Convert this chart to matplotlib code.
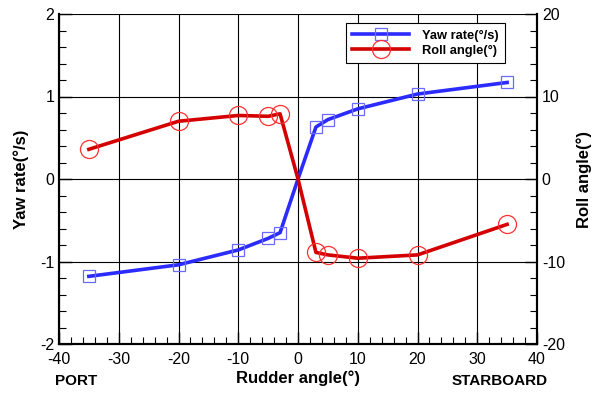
import matplotlib.pyplot as plt
import numpy as np
from matplotlib.ticker import MultipleLocator

plt.rcParams["font.family"] = ["Liberation Sans", "DejaVu Sans"]
plt.rcParams["axes.unicode_minus"] = False

rudder = [-35, -20, -10, -5, -3, 0, 3, 5, 10, 20, 35]
yaw_rate = [-1.18, -1.04, -0.86, -0.72, -0.65, 0.0, 0.63, 0.72, 0.85, 1.03, 1.17]
roll_angle = [3.6, 7.0, 7.7, 7.6, 7.9, 0.0, -8.9, -9.2, -9.6, -9.2, -5.5]

# no symbol is drawn at the origin point
marked = [i for i, r in enumerate(rudder) if r != 0]

fig = plt.figure(figsize=(5.93, 3.94), dpi=100)
ax = fig.add_axes([59 / 593, 50 / 394, 478 / 593, 330 / 394])
ax2 = ax.twinx()

ax.plot(rudder, yaw_rate, color="#2b2bff", lw=2.6, marker="s", ms=8,
        mfc="none", mec="#6a6aff", mew=0.9, markevery=marked,
        label="Yaw rate(°/s)", zorder=3)
ax2.plot(rudder, roll_angle, color="#d40000", lw=2.6, marker="o", ms=13,
         mfc="none", mec="#ff3030", mew=0.9, markevery=marked,
         label="Roll angle(°)", zorder=3)

ax.set_xlim(-40, 40)
ax.set_ylim(-2, 2)
ax2.set_ylim(-20, 20)

ax.xaxis.set_major_locator(MultipleLocator(10))
ax.xaxis.set_minor_locator(MultipleLocator(2))
ax.yaxis.set_major_locator(MultipleLocator(1))
ax.yaxis.set_minor_locator(MultipleLocator(0.2))
ax2.yaxis.set_major_locator(MultipleLocator(10))
ax2.yaxis.set_minor_locator(MultipleLocator(2))

ax.grid(True, which="major", color="black", lw=0.8)
ax.tick_params(which="both", direction="in", labelsize=11.5, top=False, right=False)
ax.tick_params(which="major", length=9, width=1)
ax.tick_params(which="minor", length=5, width=0.8)
ax2.tick_params(which="both", direction="in", labelsize=11.5)
ax2.tick_params(which="major", length=9, width=1)
ax2.tick_params(which="minor", length=5, width=0.8)
ax.tick_params(axis="x", pad=6)

for a in (ax, ax2):
    a.spines["top"].set_visible(False)
    for s in ("left", "right", "bottom"):
        a.spines[s].set_linewidth(1.5)

ax.set_ylabel("Yaw rate(°/s)", fontsize=12, fontweight="bold", labelpad=8)
ax2.set_ylabel("Roll angle(°)", fontsize=12, fontweight="bold", labelpad=8,
               rotation=90)
ax.set_xlabel("Rudder angle(°)", fontsize=12, fontweight="bold", labelpad=2)

fig.text(55 / 593, 1 - 381 / 394, "PORT", fontsize=11, fontweight="bold",
         va="center", ha="left")
fig.text(548 / 593, 1 - 381 / 394, "STARBOARD", fontsize=11, fontweight="bold",
         va="center", ha="right")

h1, l1 = ax.get_legend_handles_labels()
h2, l2 = ax2.get_legend_handles_labels()
leg = ax2.legend(h1 + h2, l1 + l2, loc="upper left",
                 bbox_to_anchor=((346 - 59) / 478, (344 - 23) / 330),
                 borderaxespad=0,
                 prop={"weight": "bold", "size": 9.3}, fancybox=False,
                 edgecolor="black", framealpha=1, borderpad=0.5,
                 handlelength=4.4, labelspacing=0.25, handletextpad=1.0)
leg.get_frame().set_linewidth(0.8)

fig.savefig("out.png", dpi=100)
